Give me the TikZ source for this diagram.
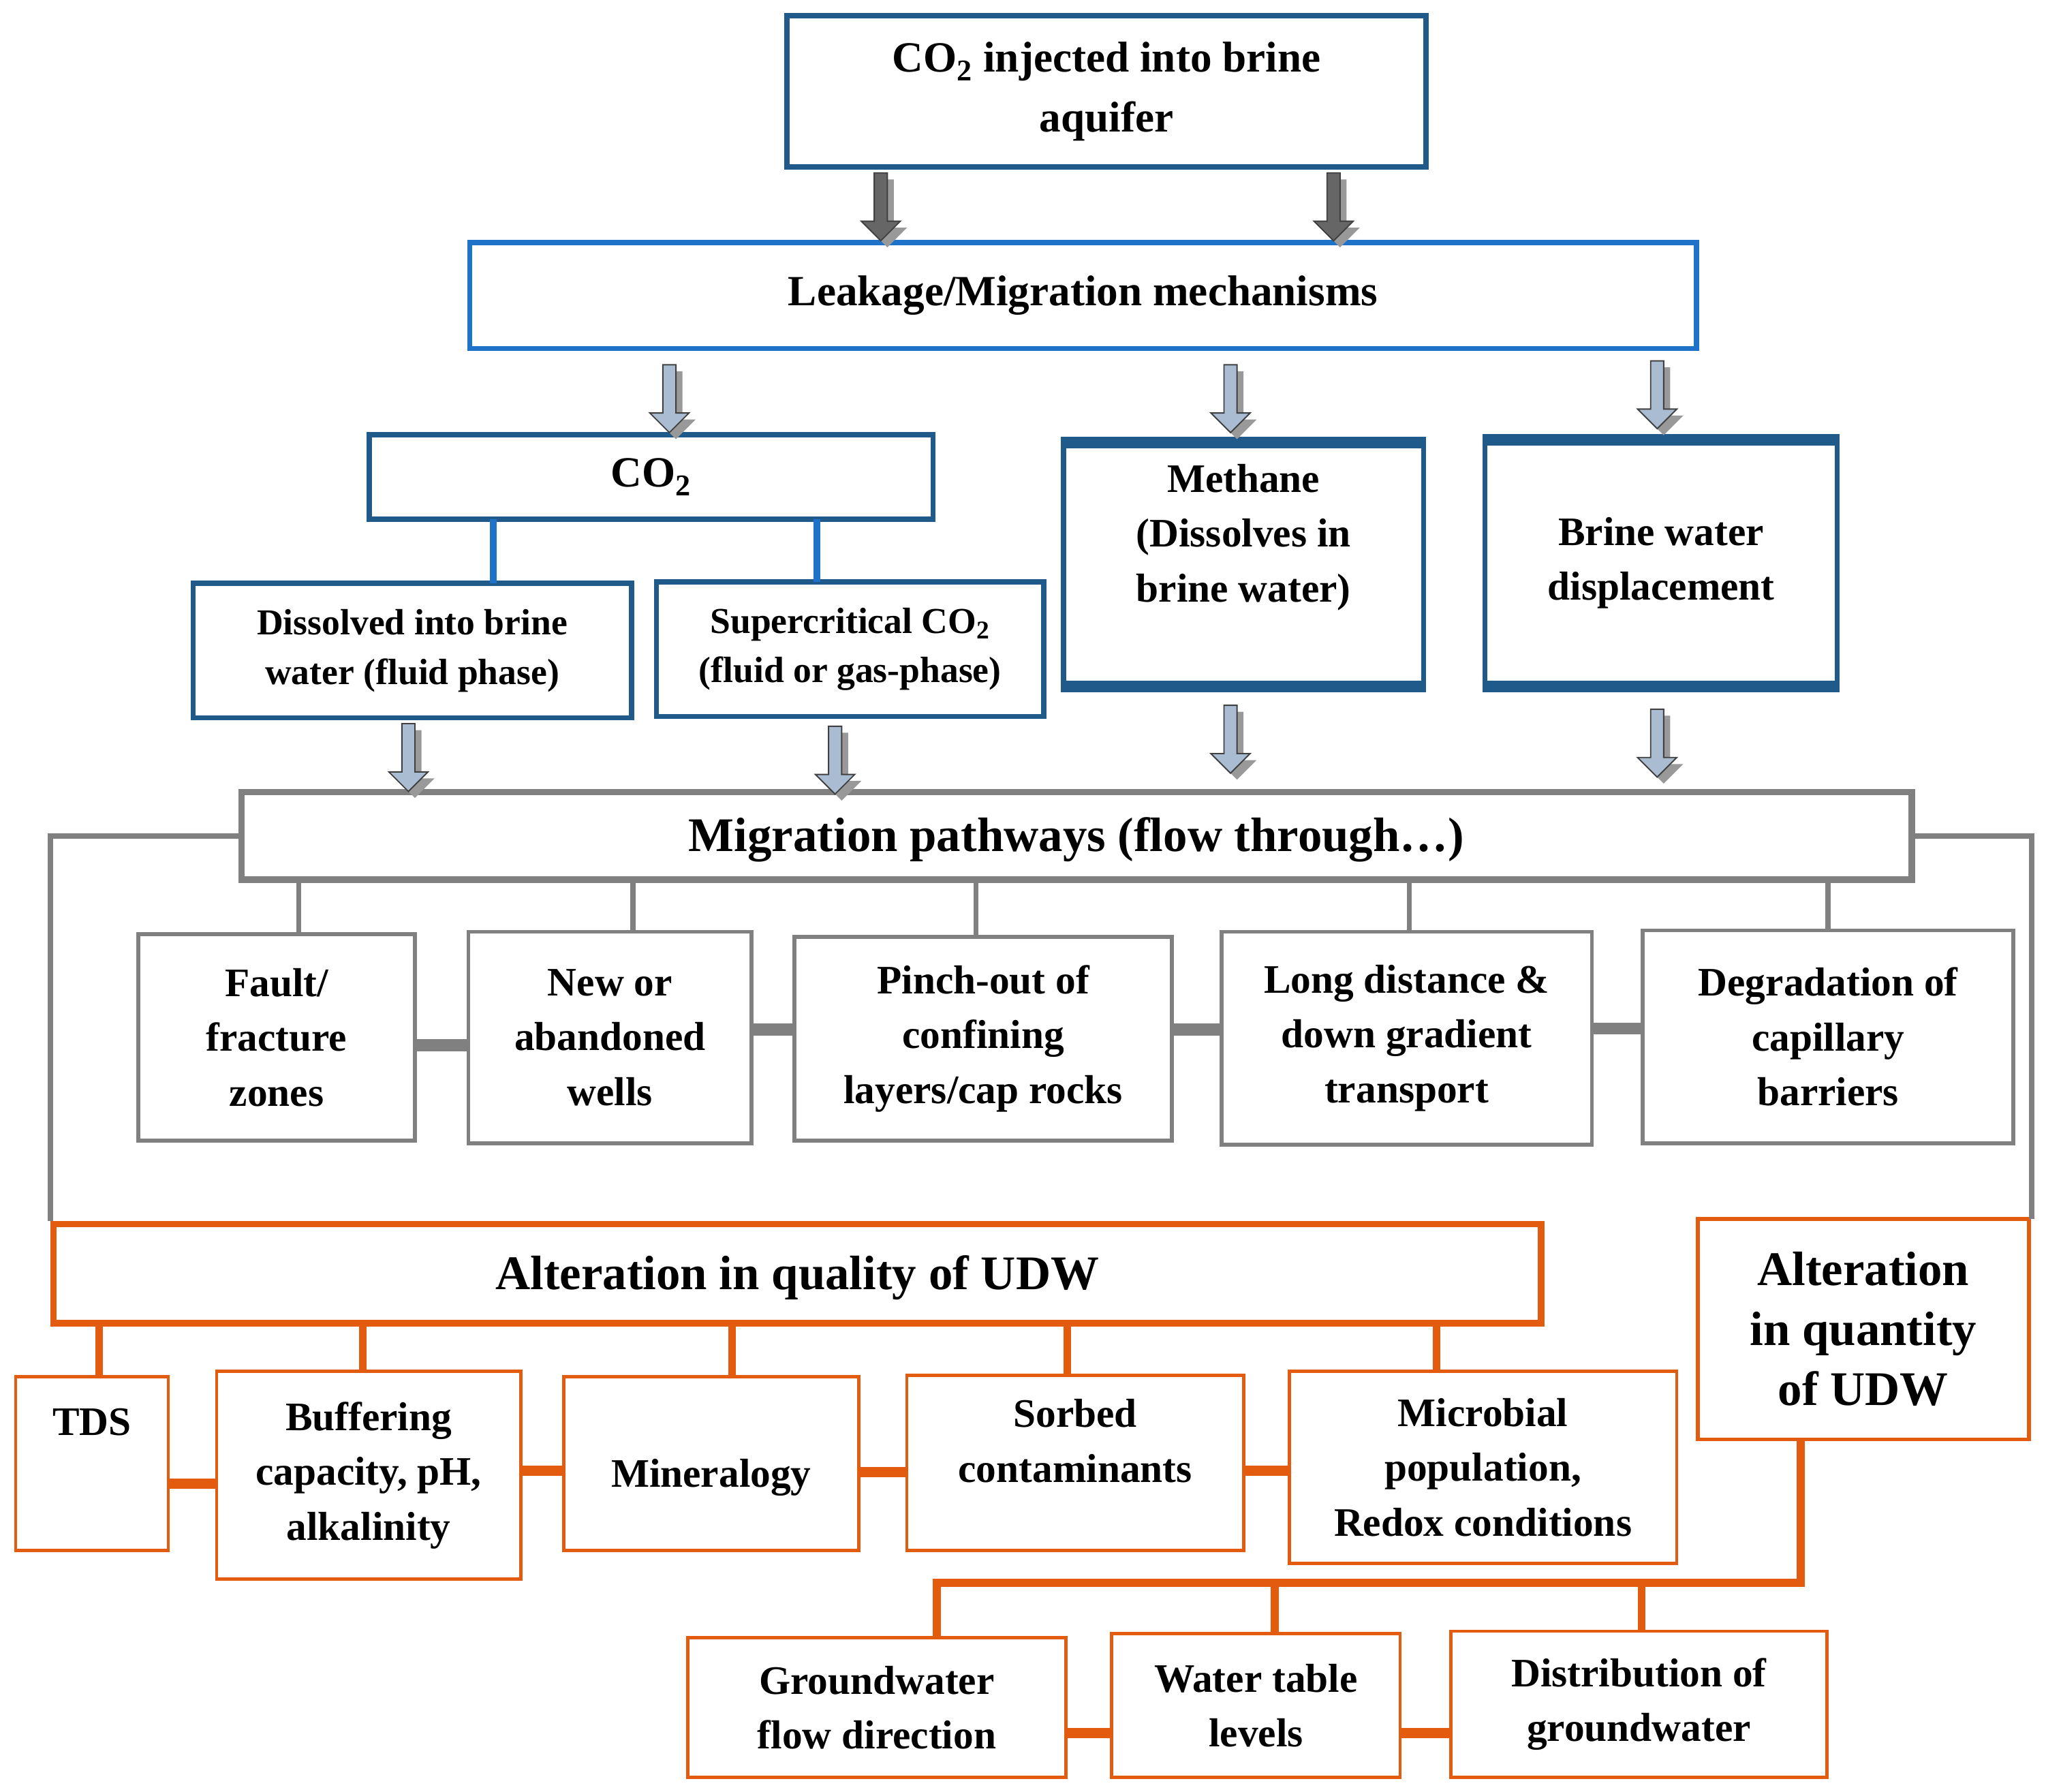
\documentclass[tikz,border=0pt]{standalone}
\usepackage{fontspec}
\setmainfont{Liberation Serif}
\usetikzlibrary{shapes.arrows,shadows}
\definecolor{dblue}{HTML}{1F5A8A}
\definecolor{lblue}{HTML}{1E73C8}
\definecolor{gr}{HTML}{808080}
\definecolor{org}{HTML}{E35B0E}
\definecolor{arrl}{HTML}{A9BCD2}
\begin{document}
\begin{tikzpicture}[x=1pt,y=-1pt,
 bx/.style={draw,fill=white,align=center,inner sep=0pt,font=\bfseries},
 bdb/.style={bx,draw=dblue,line width=4pt},
 blb/.style={bx,draw=lblue,line width=4pt},
 bg/.style={bx,draw=gr,line width=3pt},
 bo/.style={bx,draw=org,line width=2.5pt},
 f36/.style={font=\bfseries\fontsize{37}{46}\selectfont},
 f32/.style={font=\bfseries\fontsize{33}{46}\selectfont},
 f30/.style={font=\bfseries\fontsize{31}{42}\selectfont},
 f26/.style={font=\bfseries\fontsize{28}{38}\selectfont},
 arr/.style={single arrow,draw=black!75,line width=1pt,shape border rotate=270,
   minimum height=52pt,minimum width=30pt,single arrow head extend=7pt,inner sep=3pt,
   drop shadow={shadow xshift=5pt,shadow yshift=-5pt,fill=gray!80,opacity=1}},
 arrd/.style={arr,fill=black!60},
 arrlb/.style={arr,fill=arrl},
 gc/.style={draw=gr,line width=4pt},
 gh/.style={draw=gr,line width=9pt},
 bc/.style={draw=lblue,line width=5pt},
 oc/.style={draw=org,line width=6pt},
 oh/.style={draw=org,line width=8pt}]
\useasboundingbox (0,0) rectangle (1568,1373);
\fill[white] (0,0) rectangle (1568,1373);
\coordinate (qj) at (1380,1213);
% nodes
\node[bdb,f32,minimum width=490,minimum height=116] (top) at (848,70) {CO\textsubscript{2} injected into brine\\aquifer};
\node[blb,f32,minimum width=940,minimum height=81] (leak) at (830,226.5) {Leakage/Migration mechanisms};
\node[bdb,f32,minimum width=432,minimum height=65] (co2) at (499,365.5) {CO\textsubscript{2}};
\node[bdb,f26,minimum width=336,minimum height=103] (diss) at (316,498.5) {Dissolved into brine\\water (fluid phase)};
\node[bdb,f26,minimum width=297,minimum height=103] (sup) at (651.5,497.5) {Supercritical CO\textsubscript{2}\\(fluid or gas-phase)};
\node[bdb,f30,minimum width=276,minimum height=189] (meth) at (953,432.5) {Methane\\(Dissolves in\\brine water)\\[6pt]};
\node[bdb,f30,minimum width=270,minimum height=191] (brine) at (1273,431.5) {Brine water\\displacement};
\foreach \n in {meth,brine}{\draw[dblue,line width=9pt] ([yshift=-3pt]\n.north west) -- ([yshift=-3pt]\n.north east); \draw[dblue,line width=9pt] ([yshift=3pt]\n.south west) -- ([yshift=3pt]\n.south east);}
\draw[bc] (378,398) -- (378,447);
\draw[bc] (626,398) -- (626,446);
\node[bg,f36,line width=5pt,minimum width=1280,minimum height=67,text depth=2pt] (mig) at (825,640.5) {Migration pathways (flow through…)};
\node[bg,f30,minimum width=212,minimum height=158] (fault) at (212,795) {Fault/\\fracture\\zones};
\node[bg,f30,minimum width=217,minimum height=162] (new) at (467.5,795) {New or\\abandoned\\wells};
\node[bg,f30,minimum width=289,minimum height=156] (pinch) at (753.5,796) {Pinch-out of\\confining\\layers/cap rocks};
\node[bg,f30,minimum width=284,minimum height=163] (long) at (1078,795.5) {Long distance \&\\down gradient\\transport};
\node[bg,f30,minimum width=284,minimum height=163] (degr) at (1401,794.5) {Degradation of\\capillary\\barriers};
\node[bo,f36,line width=5pt,minimum width=1140,minimum height=76,text depth=2pt] (qual) at (611,976) {Alteration in quality of UDW};
\node[bo,f36,line width=3pt,minimum width=254,minimum height=169] (quant) at (1428,1018.5) {Alteration\\in quantity\\of UDW};
\node[bo,minimum width=117,minimum height=133] (tds) at (70.5,1121.5) {};
\node[f30,inner sep=0pt] (tdsl) at (70.5,1090) {TDS};
\node[bo,f30,minimum width=233,minimum height=159] (buff) at (282.5,1130.5) {Buffering\\capacity, pH,\\alkalinity};
\node[bo,minimum width=226,minimum height=133] (mine) at (545,1121.5) {};
\node[f30,inner sep=0pt] (minel) at (545,1132) {Mineralogy};
\node[bo,f30,minimum width=258,minimum height=134] (sorb) at (824,1121) {Sorbed\\contaminants\\[-8pt]};
\node[bo,f30,minimum width=297,minimum height=147] (micr) at (1136.5,1124.5) {Microbial\\population,\\Redox conditions};
\node[bo,f30,minimum width=290,minimum height=107] (gw) at (672,1308.5) {Groundwater\\flow direction};
\node[bo,f30,minimum width=221,minimum height=110] (wt) at (962.5,1307) {Water table\\levels};
\node[bo,f30,minimum width=288,minimum height=112] (dist) at (1256,1306) {Distribution of\\groundwater};
% arrows
\node[arrd] (a1) at (675,156) {};
\node[arrd] (a2) at (1022,156) {};
\node[arrlb] (a3) at (513,303) {};
\node[arrlb] (a4) at (943,303) {};
\node[arrlb] (a5) at (1270,300) {};
\node[arrlb] (a6) at (313,578) {};
\node[arrlb] (a7) at (640,580) {};
\node[arrlb] (a8) at (943,564) {};
\node[arrlb] (a9) at (1270,567) {};
% gray connectors
\draw[gc] (mig.west) -| (qual.north west);
\draw[gc] (mig.east) -| (1557,934);
\foreach \b/\x in {fault/229,new/485,pinch/748,long/1080,degr/1401}{\draw[gc] (\x,674) coordinate (t) -- (t |- \b.north);}
\draw[gh] (fault.east |- 0,801) -- (new.west |- 0,801);
\draw[gh] (new.east |- 0,789) -- (pinch.west |- 0,789);
\draw[gh] (pinch.east |- 0,789) -- (long.west |- 0,789);
\draw[gh] (long.east |- 0,788) -- (degr.west |- 0,788);
% orange connectors
\foreach \b/\x in {tds/76,buff/278,mine/561,sorb/818,micr/1101}{\draw[oc] (\x,1014) coordinate (t) -- (t |- \b.north);}
\draw[oh] (tds.east |- 0,1137) -- (buff.west |- 0,1137);
\draw[oh] (buff.east |- 0,1127) -- (mine.west |- 0,1127);
\draw[oh] (mine.east |- 0,1128) -- (sorb.west |- 0,1128);
\draw[oh] (sorb.east |- 0,1127) -- (micr.west |- 0,1127);
\draw[oc] (quant.south -| qj) -- (qj) -- (718,1213) coordinate (g1) -- (g1 |- gw.north);
\draw[oc] (977,1213) coordinate (g2) -- (g2 |- wt.north);
\draw[oc] (1258,1213) coordinate (g3) -- (g3 |- dist.north);
\draw[oh] (gw.east |- 0,1328) -- (wt.west |- 0,1328);
\draw[oh] (wt.east |- 0,1328) -- (dist.west |- 0,1328);
\end{tikzpicture}
\end{document}
